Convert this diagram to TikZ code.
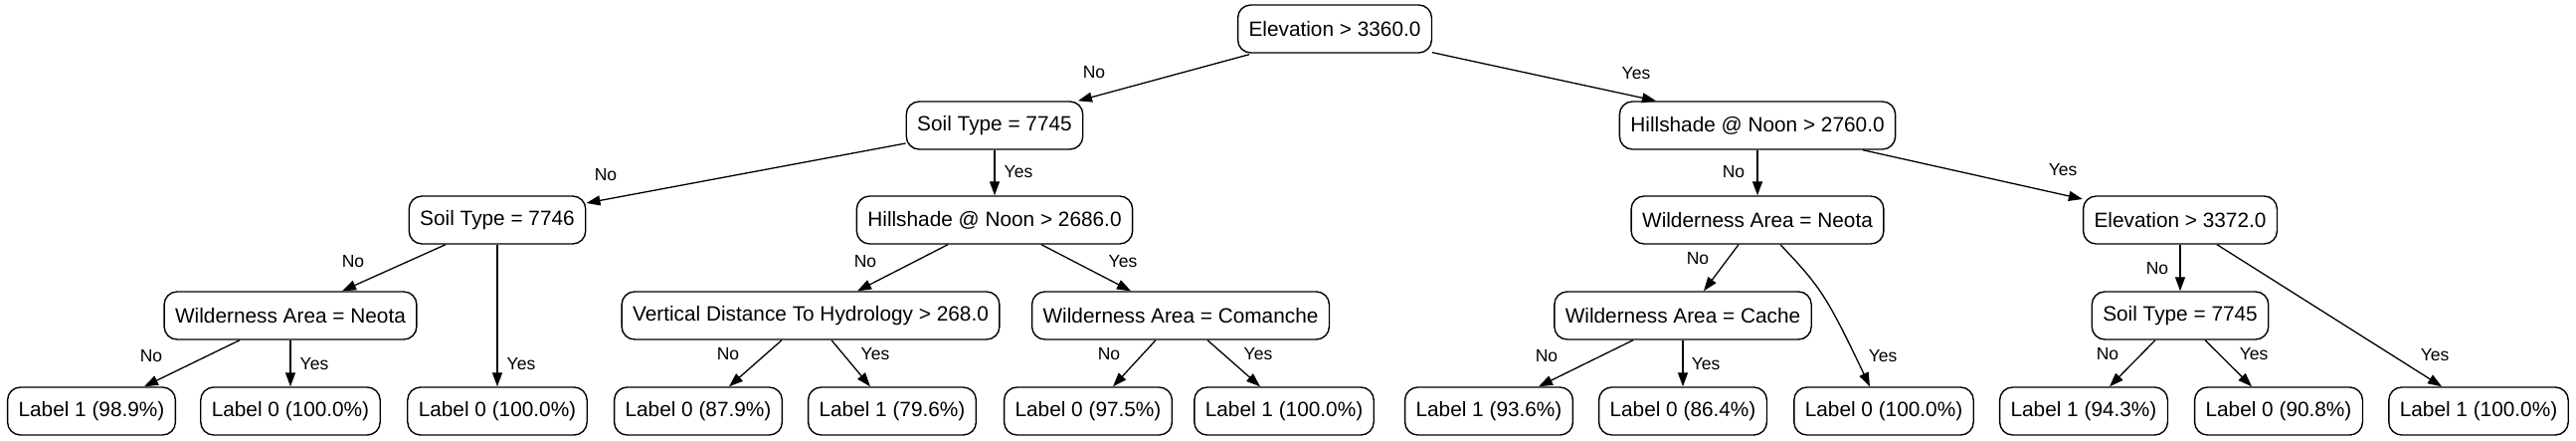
\documentclass[tikz,border=0pt]{standalone}
\usepackage{fontspec}
\setmainfont{Liberation Sans}
\usetikzlibrary{arrows.meta}
\tikzset{
  box/.style={draw, rounded corners=13pt, line width=1.4pt, minimum height=48pt, inner xsep=11pt, inner ysep=0pt, font=\fontsize{20.8}{24}\selectfont},
  edge/.style={line width=1.3pt, -{Triangle[length=14pt,width=10pt]}},
  elab/.style={font=\fontsize{17.5}{20}\selectfont, inner sep=0pt},
}
\begin{document}
\begin{tikzpicture}[x=1pt,y=-1pt]
\useasboundingbox (0,0) rectangle (2590,443);
% nodes
\node[box] (root) at (1342,29) {Elevation > 3360.0};
\node[box] (s7745) at (1000,126) {Soil Type = 7745};
\node[box] (h2760) at (1767,126) {Hillshade @ Noon > 2760.0};
\node[box] (s7746) at (500,221) {Soil Type = 7746};
\node[box] (h2686) at (1000,221) {Hillshade @ Noon > 2686.0};
\node[box] (wnR) at (1767,221) {Wilderness Area = Neota};
\node[box] (e3372) at (2192,221) {Elevation > 3372.0};
\node[box] (wnL) at (292,317) {Wilderness Area = Neota};
\node[box] (vd) at (815,317) {Vertical Distance To Hydrology > 268.0};
\node[box] (wc) at (1187,317) {Wilderness Area = Comanche};
\node[box] (cache) at (1692,317) {Wilderness Area = Cache};
\node[box] (s7745b) at (2192,317) {Soil Type = 7745};
\node[box] (l1) at (92,413) {Label 1 (98.9\%)};
\node[box] (l2) at (292,413) {Label 0 (100.0\%)};
\node[box] (l3) at (500,413) {Label 0 (100.0\%)};
\node[box] (l4) at (702,413) {Label 0 (87.9\%)};
\node[box] (l5) at (897,413) {Label 1 (79.6\%)};
\node[box] (l6) at (1094,413) {Label 0 (97.5\%)};
\node[box] (l7) at (1291,413) {Label 1 (100.0\%)};
\node[box] (l8) at (1497,413) {Label 1 (93.6\%)};
\node[box] (l9) at (1692,413) {Label 0 (86.4\%)};
\node[box] (l10) at (1894,413) {Label 0 (100.0\%)};
\node[box] (l11) at (2095,413) {Label 1 (94.3\%)};
\node[box] (l12) at (2291,413) {Label 0 (90.8\%)};
\node[box] (l13) at (2492,413) {Label 1 (100.0\%)};
% edges
\draw[edge] ([xshift=-86pt,yshift=-1pt]root.south) -- ([xshift=84pt]s7745.north);
\draw[edge] ([xshift=98pt,yshift=1pt]root.south) -- ([xshift=-102pt]h2760.north);
\draw[edge] ([yshift=-18pt]s7745.west) -- ([yshift=17pt]s7746.east);
\draw[edge] (s7745.south) -- (h2686.north);
\draw[edge] (h2760.south) -- (wnR.north);
\draw[edge] ([xshift=106pt]h2760.south) -- ([yshift=21pt]e3372.west);
\draw[edge] ([xshift=-52pt]s7746.south) -- ([xshift=52pt]wnL.north);
\draw[edge] (s7746.south) -- (l3.north);
\draw[edge] ([xshift=-47pt]h2686.south) -- ([xshift=47pt]vd.north);
\draw[edge] ([xshift=47pt]h2686.south) -- ([xshift=-50pt]wc.north);
\draw[edge] ([xshift=-19pt]wnR.south) -- ([xshift=21pt]cache.north);
\draw[edge] ([xshift=23pt]wnR.south) .. controls (1830,288) and (1836,296) .. ([xshift=-14pt]l10.north);
\draw[edge] (e3372.south) -- (s7745b.north);
\draw[edge] ([xshift=37pt]e3372.south) -- ([xshift=-37pt]l13.north);
\draw[edge] ([xshift=-51pt]wnL.south) -- ([xshift=53pt]l1.north);
\draw[edge] (wnL.south) -- (l2.north);
\draw[edge] ([xshift=-29pt]vd.south) -- ([xshift=31pt]l4.north);
\draw[edge] ([xshift=21pt]vd.south) -- ([xshift=-22pt]l5.north);
\draw[edge] ([xshift=-25pt]wc.south) -- ([xshift=25pt]l6.north);
\draw[edge] ([xshift=27pt]wc.south) -- ([xshift=-24pt]l7.north);
\draw[edge] ([xshift=-50pt]cache.south) -- ([xshift=50pt]l8.north);
\draw[edge] (cache.south) -- (l9.north);
\draw[edge] ([xshift=-25pt]s7745b.south) -- ([xshift=26pt]l11.north);
\draw[edge] ([xshift=25pt]s7745b.south) -- ([xshift=-27pt]l12.north);
% edge labels
\node[elab] (t1) at (1100,73) {No};
\node[elab] (t2) at (1645,74) {Yes};
\node[elab] (t3) at (609,176) {No};
\node[elab] (t4) at (1024,173) {Yes};
\node[elab] (t5) at (1743,173) {No};
\node[elab] (t6) at (2074,171) {Yes};
\node[elab] (t7) at (355,263) {No};
\node[elab] (t8) at (870,263) {No};
\node[elab] (t9) at (1129,263) {Yes};
\node[elab] (t10) at (1707,260) {No};
\node[elab] (t11) at (2169,270) {No};
\node[elab] (t12) at (152,358) {No};
\node[elab] (t13) at (316,366) {Yes};
\node[elab] (t14) at (524,366) {Yes};
\node[elab] (t15) at (732,356) {No};
\node[elab] (t16) at (880,356) {Yes};
\node[elab] (t17) at (1115,356) {No};
\node[elab] (t18) at (1265,356) {Yes};
\node[elab] (t19) at (1555,358) {No};
\node[elab] (t20) at (1715,366) {Yes};
\node[elab] (t21) at (1893,358) {Yes};
\node[elab] (t22) at (2119,356) {No};
\node[elab] (t23) at (2266,356) {Yes};
\node[elab] (t24) at (2448,357) {Yes};
\end{tikzpicture}
\end{document}
